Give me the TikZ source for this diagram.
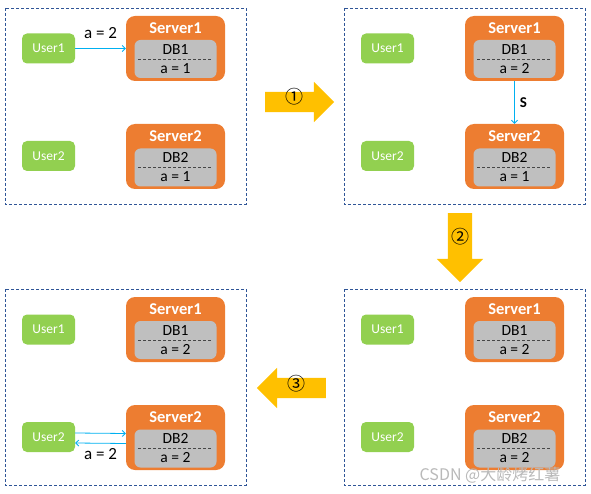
\documentclass[tikz,border=0pt]{standalone}
\usepackage{fontspec}
\setmainfont{Carlito}
\newfontfamily\cjkfont{Noto Sans CJK SC}
\usetikzlibrary{arrows.meta,positioning,shapes.arrows}
\definecolor{srvorange}{HTML}{ED7D31}
\definecolor{usergreen}{HTML}{92D050}
\definecolor{dbgray}{HTML}{BFBFBF}
\definecolor{frameblue}{HTML}{2F5597}
\definecolor{flowcyan}{HTML}{00B0F0}
\definecolor{stepyellow}{HTML}{FFC000}

\begin{document}
\begin{tikzpicture}[
  x=1pt, y=-1pt,
  every node/.style={align=center, inner sep=0pt},
  panel/.style={draw=frameblue, dash pattern=on 3pt off 2pt, line width=0.8pt},
  user/.style={fill=usergreen, rounded corners=5pt, minimum width=53pt, minimum height=30pt, text=white, font=\fontsize{13.5}{16}\selectfont},
  server/.style={fill=srvorange, rounded corners=9pt, minimum width=99pt, minimum height=65pt},
  stitle/.style={text=white, font=\bfseries\fontsize{16.5}{19}\selectfont},
  db/.style={fill=dbgray, rounded corners=6pt, minimum width=82pt, minimum height=38pt, font=\fontsize{15.5}{19}\selectfont},
  divider/.style={draw=gray!55!black, dash pattern=on 3pt off 2pt, line width=0.6pt},
  flow/.style={-{Straight Barb[length=3pt,width=6pt]}, draw=flowcyan, line width=0.8pt},
  lbl/.style={font=\fontsize{17}{20}\selectfont},
  steparrow/.style={single arrow, fill=stepyellow, minimum height=69pt, single arrow head extend=10pt, text height=7pt, text depth=3pt, inner sep=5pt, font=\cjkfont\fontsize{18}{18}\selectfont}
]
\useasboundingbox (0,0) rectangle (591,494);

% four snapshots of the two servers
\foreach \p/\px/\py/\va/\vb in {1/0/0/1/1, 2/339/0/2/1, 3/0/281/2/2, 4/339/281/2/2} {
  \draw[panel] (\px+5,\py+8) rectangle (\px+246,\py+204);
  \node[user] (u1-\p) at (\px+48.5,\py+48.5) {User1};
  \node[user] (u2-\p) at (\px+48.5,\py+156) {User2};
  \node[server] (s1-\p) at (\px+175.5,\py+48.5) {};
  \node[server] (s2-\p) at (\px+175.5,\py+156.5) {};
  \node[stitle] (t1-\p) at ([yshift=-12pt]s1-\p.north) {Server1};
  \node[stitle] (t2-\p) at ([yshift=-12.5pt]s2-\p.north) {Server2};
  \node[db] (db1-\p) at ([yshift=-10.5pt]s1-\p.center) {DB1\\a = \va};
  \node[db] (db2-\p) at ([yshift=-11pt]s2-\p.center) {DB2\\a = \vb};
  \draw[divider] ([xshift=4pt]db1-\p.west) -- ([xshift=-4pt]db1-\p.east);
  \draw[divider] ([xshift=4pt]db2-\p.west) -- ([xshift=-4pt]db2-\p.east);
}

% requests and sync
\draw[flow] (u1-1) -- node[lbl, above=9pt] (w1) {a = 2} (s1-1);
\draw[flow] (s1-2) -- node[lbl, right=5pt, font=\bfseries\fontsize{15}{17}\selectfont] (sync) {S} (s2-2);
\draw[flow] ([yshift=4pt]u2-3.east) -- ([yshift=4pt]s2-3.west);
\draw[flow] ([yshift=-6pt]s2-3.west) -- node[lbl, below=5pt] (r3) {a = 2} ([yshift=-6pt]u2-3.east);

% steps
\node[steparrow] (step1) at (294.5,102) {\makebox[10pt]{①}};
\node[steparrow, shape border rotate=270, inner sep=7pt, single arrow head extend=11pt] (step2) at (460,241.5) {\makebox[10pt]{②}};
\node[steparrow, shape border rotate=180] (step3) at (296.5,388) {\makebox[10pt]{③}};

\node[text=gray!55, font=\cjkfont\fontsize{16}{16}\selectfont] (wm) at (490,475) {CSDN @大龄烤红薯};
\end{tikzpicture}
\end{document}
